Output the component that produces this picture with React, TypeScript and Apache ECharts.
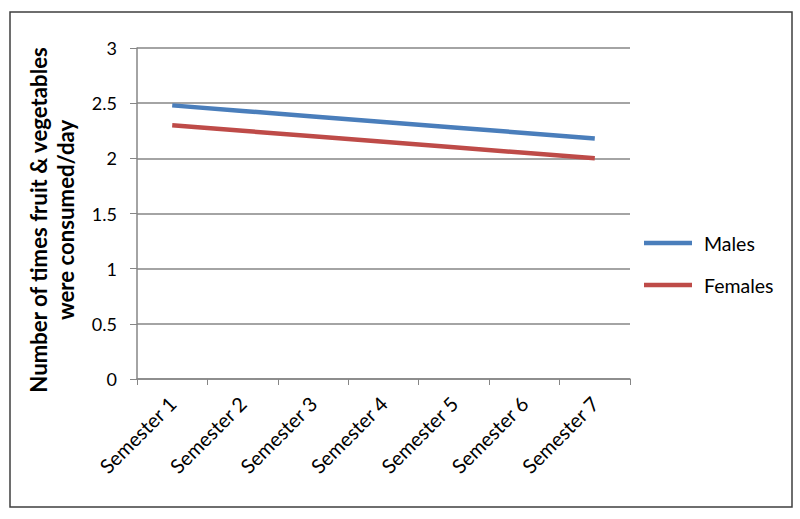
import React, { useEffect, useRef } from "react";
import * as echarts from "echarts";

const categories = ["Semester 1", "Semester 2", "Semester 3", "Semester 4", "Semester 5", "Semester 6", "Semester 7"];
const males = [2.48, 2.43, 2.38, 2.33, 2.28, 2.23, 2.18];
const females = [2.3, 2.25, 2.2, 2.15, 2.1, 2.05, 2.0];
const yTitle = "Number of times fruit & vegetables\nwere consumed/day";

const FONT = "Lato, 'Open Sans', sans-serif";

export default function App() {
  const ref = useRef<HTMLDivElement>(null);
  useEffect(() => {
    if (!ref.current) return;
    const chart = echarts.init(ref.current, undefined, { renderer: "svg" });
    chart.setOption({
      animation: false,
      backgroundColor: "#ffffff",
      textStyle: { fontFamily: FONT },
      graphic: [
        {
          type: "rect",
          shape: { x: 10, y: 12, width: 782, height: 495 },
          style: { fill: "none", stroke: "#3f3f3f", lineWidth: 1.5 },
          silent: true,
        },
      ],
      grid: { left: 137, right: 170, top: 48, bottom: 140, containLabel: false },
      legend: {
        orient: "vertical",
        left: 639,
        top: 228,
        itemWidth: 48,
        itemHeight: 4.5,
        itemGap: 22,
        icon: "rect",
        textStyle: { fontSize: 19.5, color: "#000", fontFamily: FONT, padding: [0, 0, 0, 7] },
        data: ["Males", "Females"],
      },
      xAxis: {
        type: "category",
        data: categories,
        boundaryGap: true,
        axisLine: { lineStyle: { color: "#868686", width: 1.5 } },
        axisTick: { show: true, length: 6, alignWithLabel: false, lineStyle: { color: "#868686" } },
        axisLabel: {
          interval: 0,
          rotate: 45,
          fontSize: 20,
          color: "#000",
          margin: 21,
          padding: [17, 0, 0, 0],
          fontFamily: FONT,
        },
      },
      yAxis: {
        type: "value",
        min: 0,
        max: 3,
        interval: 0.5,
        name: yTitle,
        nameLocation: "middle",
        nameRotate: 90,
        nameGap: 58,
        nameTextStyle: {
          fontSize: 22.2,
          fontWeight: "bold",
          color: "#000",
          lineHeight: 27,
          fontFamily: FONT,
          padding: [0, 13, 0, 0],
        },
        axisLine: { show: true, lineStyle: { color: "#868686", width: 1.5 } },
        axisTick: { show: true, length: 7, lineStyle: { color: "#868686" } },
        axisLabel: { fontSize: 18, color: "#000", margin: 20, fontFamily: FONT },
        splitLine: { show: true, lineStyle: { color: "#868686", width: 1.5 } },
      },
      series: [
        {
          name: "Males",
          type: "line",
          data: males,
          showSymbol: false,
          symbol: "none",
          lineStyle: { color: "#4A7EBB", width: 4.5 },
          itemStyle: { color: "#4A7EBB" },
        },
        {
          name: "Females",
          type: "line",
          data: females,
          showSymbol: false,
          symbol: "none",
          lineStyle: { color: "#BE4B48", width: 4.5 },
          itemStyle: { color: "#BE4B48" },
        },
      ],
    });
    return () => chart.dispose();
  }, []);
  return (
    <div
      ref={ref}
      style={{ position: "fixed", left: 0, top: 0, width: 800, height: 519, background: "#fff" }}
    />
  );
}
